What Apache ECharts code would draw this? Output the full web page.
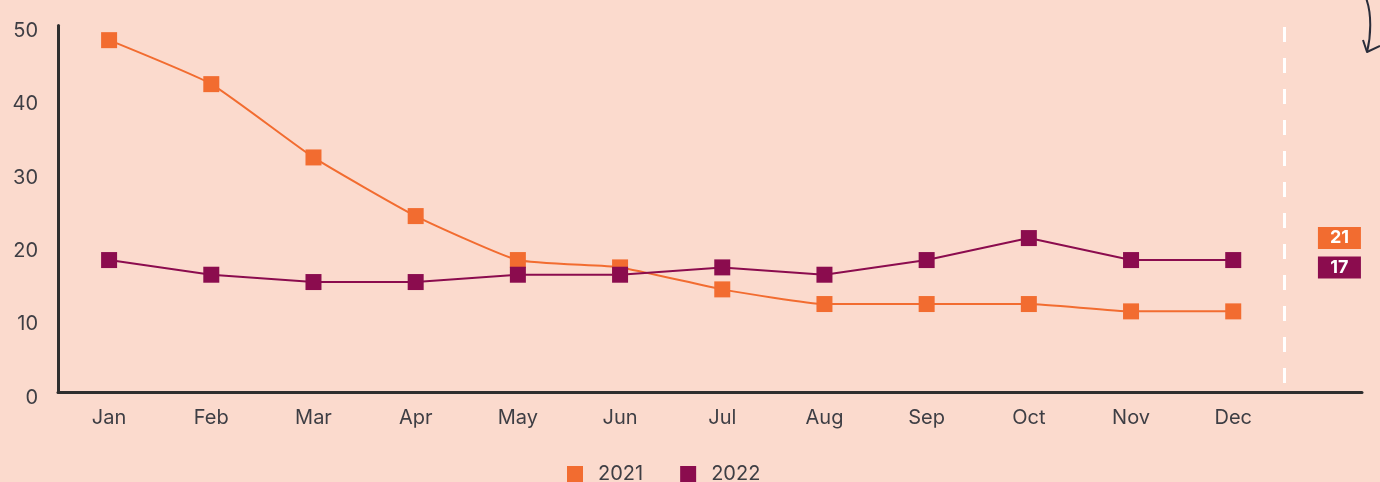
<!DOCTYPE html>
<html>
<head>
<meta charset="utf-8">
<script src="https://cdn.jsdelivr.net/npm/echarts@6/dist/echarts.min.js"></script>
<style>
html,body{margin:0;padding:0;background:#FBDACD;}
#chart{width:1380px;height:482px;}
</style>
</head>
<body>
<div id="chart"></div>
<script>
const months = ['Jan','Feb','Mar','Apr','May','Jun','Jul','Aug','Sep','Oct','Nov','Dec'];
const series2021 = [48, 42, 32, 24, 18, 17, 14, 12, 12, 12, 11, 11];
const series2022 = [18, 16, 15, 15, 16, 16, 17, 16, 18, 21, 18, 18];
const sideLabels = [{ name: '2021', value: 21 }, { name: '2022', value: 17 }];
const yTicks = [0, 10, 20, 30, 40, 50];

const ORANGE = '#F26C30';
const PURPLE = '#8B0C4E';
const AXIS = '#2E2E2E';
const TEXT = '#3E3E44';
const FONT = 'Inter, Lato, sans-serif';

const chart = echarts.init(document.getElementById('chart'), null, { renderer: 'canvas' });
const idx = months.map((m, i) => i);

chart.setOption({
  backgroundColor: '#FBDACD',
  animation: false,
  grid: { left: 58, right: 18, top: 25.5, bottom: 90, containLabel: false },
  legend: {
    data: ['2021', '2022'],
    left: 567, top: 464, padding: 0,
    icon: 'rect', itemWidth: 16, itemHeight: 16, itemGap: 37,
    textStyle: { color: TEXT, fontSize: 20, fontFamily: FONT, padding: [0, 0, 0, 10] }
  },
  xAxis: {
    type: 'value', min: -0.5, max: 12.26,
    axisLine: { show: true, lineStyle: { color: AXIS, width: 3 } },
    axisTick: { show: false },
    splitLine: { show: false },
    axisLabel: {
      customValues: idx,
      formatter: v => months[Math.round(v)] || '',
      color: TEXT, fontSize: 20, fontFamily: FONT, margin: 16
    }
  },
  yAxis: {
    type: 'value', min: yTicks[0], max: yTicks[yTicks.length - 1], interval: 10,
    axisLine: { show: true, onZero: false, lineStyle: { color: AXIS, width: 3 } },
    axisTick: { show: false },
    splitLine: { show: false },
    axisLabel: {
      margin: 20,
      formatter: v => '{v|' + v + '}',
      rich: { v: { color: TEXT, fontSize: 20, fontFamily: FONT, padding: [11, 0, 0, 0] } }
    }
  },
  series: [
    {
      name: '2021', type: 'line',
      data: series2021.map((v, i) => [i, v]),
      smooth: 0.15,
      symbol: 'rect', symbolSize: 16,
      lineStyle: { color: ORANGE, width: 2 },
      itemStyle: { color: ORANGE },
      markLine: {
        silent: true, symbol: 'none', label: { show: false },
        lineStyle: { color: '#FFFFFF', width: 3, type: [15, 16], dashOffset: 22 },
        data: [{ xAxis: 11.5 }]
      }
    },
    {
      name: '2022', type: 'line',
      data: series2022.map((v, i) => [i, v]),
      symbol: 'rect', symbolSize: 16,
      lineStyle: { color: PURPLE, width: 2 },
      itemStyle: { color: PURPLE }
    },
    {
      name: 'side', type: 'scatter',
      symbolSize: 0,
      itemStyle: { opacity: 1 },
      data: sideLabels.map((d, i) => ({
        value: [12, d.value],
        label: { backgroundColor: i === 0 ? ORANGE : PURPLE }
      })),
      label: {
        show: true, position: 'inside', offset: [4, 0],
        formatter: p => p.value[1],
        color: '#FFFFFF', fontSize: 18, fontWeight: 'bold', fontFamily: FONT, opacity: 1,
        width: 43, height: 22, lineHeight: 22, align: 'center', padding: 0
      }
    }
  ],
  graphic: [
    { type: 'bezierCurve', silent: true,
      shape: { x1: 1366, y1: -2, cpx1: 1372, cpy1: 14, cpx2: 1371, cpy2: 36, x2: 1367, y2: 52 },
      style: { fill: null, stroke: '#2A2D3A', lineWidth: 2 } },
    { type: 'polyline', silent: true,
      shape: { points: [[1363, 40], [1367, 52], [1380, 46]] },
      style: { fill: null, stroke: '#2A2D3A', lineWidth: 2, lineJoin: 'round' } }
  ]
});
</script>
</body>
</html>
